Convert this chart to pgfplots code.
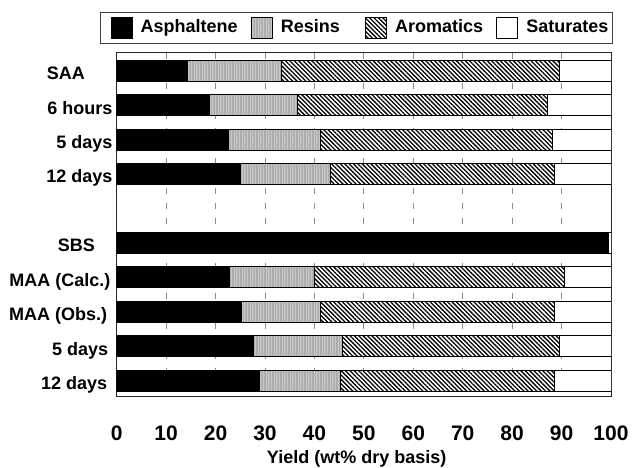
\documentclass[border=0pt]{standalone}
\usepackage{pgfplots}
\pgfplotsset{compat=1.18}
\usetikzlibrary{patterns.meta}
\usepackage{fontspec}
\setmainfont{Liberation Sans}
\begin{document}
\begin{tikzpicture}
\useasboundingbox (0,0) rectangle (632bp,468bp);
\begin{axis}[
  at={(116.7bp,71.3bp)}, anchor=south west,
  scale only axis, width=494.3bp, height=344bp,
  xbar stacked, bar width=21bp,
  y dir=reverse,
  xmin=0, xmax=100, ymin=-0.523, ymax=9.47,
  axis line style={black!85, line width=0.9bp},
  xtick={0,10,...,100},
  xticklabels={0,10,20,30,40,50,60,70,80,90,100},
  ytick={0,1,2,3,5,6,7,8,9},
  yticklabels={SAA\hspace*{27.7bp}, 6 hours, 5 days, 12 days, SBS\hspace*{17.7bp}, MAA (Calc.)\hspace*{2bp}, MAA (Obs.)\hspace*{5.4bp}, 5 days\hspace*{4.4bp}, 12 days\hspace*{5.4bp}},
  major tick length=0pt,
  xticklabel style={font=\fontsize{21bp}{21bp}\selectfont\bfseries, inner sep=0pt, text height=15bp, text depth=0pt, yshift=-29bp},
  yticklabel style={font=\fontsize{18bp}{18bp}\selectfont\bfseries, anchor=east, inner sep=0pt, text height=12.9bp, text depth=0pt, xshift=-4bp, yshift=-2.5bp},
  xlabel={Yield (wt\% dry basis)},
  xlabel style={at={(axis description cs:0.4855,0)}, anchor=north, yshift=-53.4bp, inner sep=0pt, text height=12.9bp, text depth=0pt, font=\fontsize{18bp}{18bp}\selectfont\bfseries},
  xmajorgrids,
  major grid style={black!45, line width=0.8bp, dash pattern=on 6.7bp off 8.3bp},
  legend columns=4,
  legend image code/.code={\draw[#1] (0bp,-10bp) rectangle (21bp,11bp);},
  legend style={at={(1.0034,1.1174)}, anchor=north east, draw=black!75, line width=0.8bp,
    inner xsep=10bp, inner ysep=4.2bp,
    font=\fontsize{18bp}{18bp}\selectfont\bfseries,
    nodes={inner sep=0pt, text height=13bp, text depth=4bp},
    /tikz/every odd column/.append style={column sep=8.3bp},
    /tikz/every even column/.append style={column sep=0bp}},
  legend cell align=left,
  every axis plot/.append style={draw=black, line width=0.8bp},
]
\addplot[fill=black] coordinates {(14.4,0) (18.7,1) (22.6,2) (25.1,3) (99.5,5) (22.8,6) (25.3,7) (27.7,8) (28.9,9)};
\addplot[fill=black!22, postaction={pattern={Lines[angle=90,distance=1.6bp,line width=0.5bp]}, pattern color=black!32}] coordinates {(19.0,0) (17.9,1) (18.7,2) (18.1,3) (0,5) (17.2,6) (16.0,7) (17.9,8) (16.3,9)};
\addplot[fill=white, postaction={pattern={Lines[angle=-45,distance=3.1bp,line width=1.3bp]}, pattern color=black}] coordinates {(56.2,0) (50.6,1) (46.8,2) (45.3,3) (0,5) (50.6,6) (47.2,7) (44.0,8) (43.3,9)};
\addplot[fill=white] coordinates {(10.4,0) (12.8,1) (11.9,2) (11.5,3) (0.5,5) (9.4,6) (11.5,7) (10.4,8) (11.5,9)};
\legend{\makebox[110bp][l]{Asphaltene},\makebox[84.3bp][l]{Resins},\makebox[101bp][l]{Aromatics},\makebox[76bp][l]{Saturates}}
\end{axis}
\end{tikzpicture}
\end{document}
